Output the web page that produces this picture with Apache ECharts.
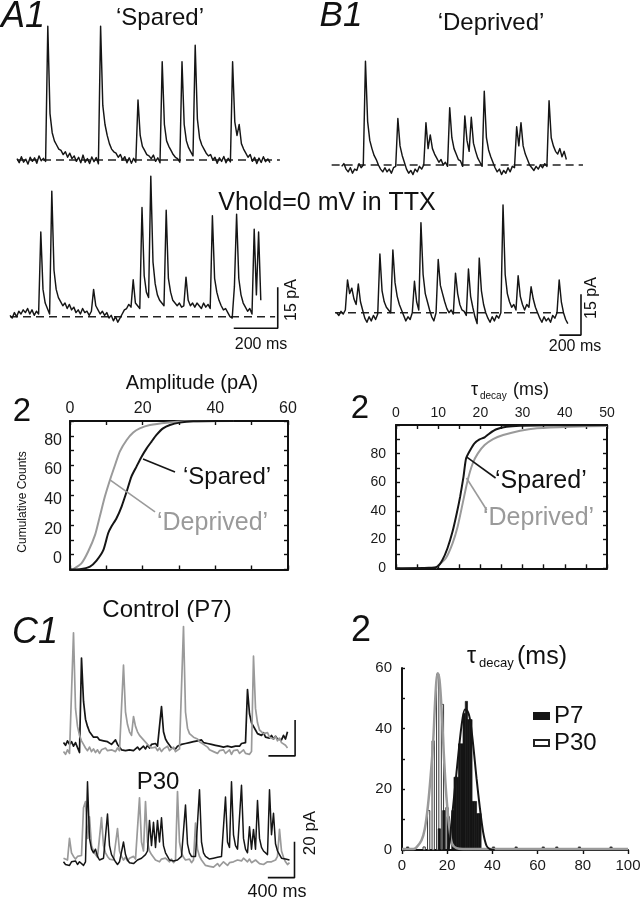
<!DOCTYPE html>
<html><head><meta charset="utf-8">
<script src="https://cdn.jsdelivr.net/npm/echarts@6/dist/echarts.min.js"></script>
<style>html,body{margin:0;padding:0;background:#fff}#c{width:642px;height:900px}</style>
</head><body><div id="c"></div>
<script>
const FONT = 'Liberation Sans, Arial, Helvetica, sans-serif';

// ===== DATA (pA, uniformly sampled traces) =====
// A1 'Spared', 10-ms samples
const spared1 = [0.5,-1,1.2,-0.8,0.3,-1.5,1,-0.5,0.8,-1.2,1.5,-0.3,0.6,-0.5,49,17,10,7,5.5,4,3.5,2,3,1,2.5,0.5,1.5,-0.5,1,-1,1.8,-0.8,0.5,-1.3,1.1,-0.6,0.9,-1.4,49,20,13,9,6,4,3,2.5,1,2,0,1.2,-1,0.8,-1.2,0.6,-0.8,22,9,5,3.5,2,1.5,0.5,1.8,-0.5,0.8,-1,36,13,7,5,3.5,2,1,0.5,-0.8,36,13,7,4.5,3,1.5,42,15,8,5.5,4,2.5,1.5,2,0,1,-1.2,0.8,-0.5,1.3,-1,0.6,-0.7,36,14,9,13,6,4,2.5,1,2,-0.5,1,-1.3,0.7,-0.9,1.2,-0.6,0.4,-1];
// B1 'Deprived', 20-ms samples
const deprived1 = [-0.5,0.5,-1.5,-2.5,-1,-3,-1.5,-2,0.5,-1,0,38,16,9,6,3.5,2,0,-1.5,-2.5,-1,-2.5,-1.5,-3,-1,-0.5,17,7,3.5,1,-1.5,-3,-2,-3.5,-1.5,-2.5,-0.5,-1.5,0,15.5,6,11,6,4,2.5,1,2,0,1,-0.5,21,10,6,4,2,1.5,-0.5,18,9,5,17.5,8,5,2.5,1,-0.5,27,10,5.5,3,1,-1,-2.5,-1.5,-3.5,-2,-3,-1,-2.5,-0.5,-1,14,7,15.5,7,4,2,0,-1,-2,-0.5,-1.5,0,-1,0.5,-0.5,23.5,10,7,5,4,6,3,5,2];
// A (Vhold=0 mV in TTX), 10-ms samples
const spared2 = [0.5,-0.5,1.5,0,2,1,2.5,1.5,3,1,2.5,0.5,2,1,31,10,5,3,1,46,17,10,7,5.5,4,5,3,4.5,2.5,3.5,1.5,2.5,1,3,1.5,2,0.5,2,10,4,2.5,1,2,0.5,1.5,-0.5,0.5,-1.5,0,-2,-0.5,1,2.5,3,4.5,3.5,13.5,5,4,3,40,15,9,7,51.5,20,12,8,6,5,4,39,14,9,6,5,4,5,3.5,4,14.5,6,4,5,3.5,5,4,3,5,3.5,4.5,3,37,14,9,6,4,2.5,3,1.5,0,-0.5,11,37.5,14,8,5,3.5,2,3,1,32,8,31,6];
// B (Vhold=0 mV in TTX), 20-ms samples
const deprived2 = [0,-1,0.5,-0.5,1,12,7,9,5,3,10.5,4,1,-2,-3.5,-1.5,-3,-1,-2.5,-0.5,21.5,8,4,2,1,0,23,11,6,3,1,-1,-3,-1.5,-2.5,0,11.5,4,1,33,14,7,4,1,-1.5,-3,0,19.5,10,7,4,1.5,0,1,-0.5,14.5,7,3,1,0.5,-1,16,6,2,-1.5,-4,20,8,3,0,-2,-3.5,-1.5,-3,-1,-2,0,39.5,14,7,4,2,3,1,13.5,6,3,1,3,2,9.5,5,2,0,-2,-3.5,-1.5,-3,-2,-3.5,-1,-2,0,12,4,0,-2.5,-4];
// C1 Control (P7), 30-ms samples
const p7Black = [3,1.5,4,2,3.5,1,3,2,-2.5,50,26,16,12,9,8,6,5,6,4.5,5.5,4,5,3.5,4,2,3,4.5,2,1,-1,0,-1.5,-0.5,-1,0,-1.5,-0.5,0.5,-1,0,1,-0.5,1.5,0,2,1,2.5,1,1.5,23,9,5,3,1.5,0,1,-0.5,1,0,2,1,2.5,1.5,3,2,3.5,2.5,4,3,4.5,3,4,2.5,3.5,2,3,1.5,2.5,1,2,0.5,1.5,1,2,0.5,1.5,1,2,1,2.5,2,3,32.5,19,14,12,10,8,9,7,8.5,6,7,5.5,7,5,6.5,5,6,4.5,7,5,9];
const p7Gray = [-2,-3.5,-1,-3,-2,64,22,12,7,4,2,0,-1.5,0.5,-2,-0.5,-2.5,-1,-3,-1,-2,0,-1.5,-2.5,-1,-0.5,-2,0,-1.5,-1,46,20,13,9,7,17.5,12,9,7,6,4.5,3.5,2,1,0,-1,0.5,-1.5,0,-2,-0.5,-1,1,-1.5,-0.5,0.5,-2,-1,-0.5,-1,67.5,20,11,8,7,6,7,5,3.5,4,2,1,0.5,-1,0,-2,-1,-3,-1.5,-2.5,-1,-3,-2,-1,-3.5,-1.5,-2.5,-1,-3,-2,-1,-3,-2,-3.5,-2,51,22,14,10,9,8,7,8.5,6,7,5,6.5,4,5.5,3,4,1.5,0];
// C1 P30, 30-ms samples
const p30Black = [-1,-2.5,-1.5,-3,-1,-2,-0.5,-2.5,-1,-2,-3,-1,43.5,12,6,4,6,2,0,-1,1,0,25.5,8,3,1,-1,-2.5,-1,0,10,3,0,-1.5,-0.5,-2,-1,0,0.5,1,2,3,5,22,8,21,7,22,10,23.5,8,4,2,0,1,-0.5,0.5,0,1,2,3,30.5,9,4,2,1,2,3,39,10,4,2,1,0.5,0,1,0,1.5,0.5,2,2.5,35,10,7,43.5,14,8,6,5,41.5,12,6,4,18.5,6,17,6,33,12,7,5,4,3,39,14,26,9,5,3,1,2,0.5,1,0];
const p30Gray = [1,2,0,12,4,2,0.5,2,1,2.5,29,32.5,12,24,8,5,3,1.5,2.5,23.5,8,4,2,0.5,1.5,0,1,17.5,5,2,0,1.5,-0.5,1,0,2,0.5,1,34.5,10,5,32.5,10,5,3,1.5,0,1,-1,0.5,-0.5,1,0,-1,0.5,-1.5,0,38,10,4,1.5,0,-1,0.5,-1.5,0,20.5,6,2,0,-1.5,-3,-2,-3.5,-2.5,-4,-3,-2,-3.5,-2.5,-1,-2,-3,-1.5,-2.5,-1,-2,0,-1,-0.5,1,0,-1,0.5,-1.5,-0.5,0,-1,-2,-1,-2.5,-1.5,-1,-2,-1,-0.5,0,2,17,5,1.5,-1,-2.5,-1.5];

// A2 cumulative amplitude (pA, %)
const ampSpared = [[0,0],[2.7,0.2],[5.5,2],[7.3,6],[9.2,13.2],[10.5,24.4],[11.4,28.9],[12.8,34.5],[14.2,42.4],[15.6,52.5],[16.9,62.6],[18.3,69.3],[19.7,76],[21.1,81.6],[22.4,86],[23.8,90.6],[25.6,95],[27.5,97.3],[30.2,98.9],[33.9,99.8],[40.3,100],[44.9,100]];
const ampDeprived = [[0.9,0.2],[3.2,4.3],[5,12.1],[6.9,23.3],[8.2,35.7],[9.6,49.1],[11,60.3],[12.4,70.4],[13.7,79.4],[15.6,87.2],[17.4,92.2],[19.2,95],[22,97.3],[26.6,98.9],[32,99.8],[44.9,100]];
// B2 cumulative tau decay (ms, %)
const tauSpared = [[0,0],[7.8,0.3],[9.8,1.2],[11,5.8],[12.2,14],[13.4,25.6],[14.4,38.4],[15.2,50],[16,64],[16.6,76.7],[17.6,82.6],[18.6,87.2],[19.8,90],[21,91.4],[22.2,94.2],[23.8,97],[26.2,98.8],[29.4,99.5],[37.4,99.8],[50,100]];
const tauDeprived = [[9.4,0.3],[11.8,7],[13.4,17.4],[14.6,29],[15.8,45.3],[17,61.6],[18.2,73.3],[19.4,80.2],[21,86],[23,90.2],[25.4,93],[29.4,96],[33.4,97.7],[41.4,98.8],[50,99.3]];
// C2 histogram of tau decay (bin centre ms, counts; 1-ms bins)
const histP7 = [[2.5,1],[16.5,7],[18.5,13],[20.5,11],[22.5,13],[23.5,24],[24.5,24],[25.5,35],[26.5,35],[27.5,45],[28.5,49],[29.5,43],[30.5,43],[31.5,16],[32.5,16],[33.5,12],[34.5,12],[40.5,1],[50.5,1],[62.5,1],[68.5,1],[78.5,1],[92.5,1]];
const histP30 = [[9.8,1],[11.8,13],[13.8,36],[15.8,58],[17.9,48],[19.9,14]];
const fitP7 = [[18,0],[20.4,0.3],[21.9,9.2],[23.4,20.2],[24.9,31.3],[26.3,40.7],[27.8,46.3],[28.6,46.2],[30,43.4],[31.5,34.6],[33,23.5],[34.5,13.6],[35.9,5.9],[37.4,1.4],[38.9,0.3],[41,0]];
const fitP30 = [[0,0.3],[5,0.3],[6.4,0.9],[8.6,3.1],[10.1,7],[11.5,14.7],[12.7,24.6],[13.8,35.7],[14.5,46.7],[15.2,55.6],[15.8,58.3],[16.6,56.1],[17.5,46.7],[18.3,34.6],[19.2,22.4],[20.1,13.6],[21.2,5.9],[22.2,2],[24.1,0.6],[27,0.3],[100,0.3]];
const histBinMs = 1;
// scale bars
const scaleAB = {ms:200, pA:15};
const scaleC = {ms:400, pA:20};
// annotation pointers (data coords)
const ampSparedPtr = [[20.1,74.4],[28.9,65.7]];
const ampDeprivedPtr = [[11,60.3],[23.4,38.8]];
const tauSparedPtr = [[16.7,77.7],[23.6,63]];
const tauDeprivedPtr = [[16.7,63],[21.5,40.7]];

// ===== LAYOUT =====
const BLACK = '#151515', GRAY = '#9a9a9a';
const grids = [], xAxes = [], yAxes = [], series = [];

function traceGrid(c) {
  const gi = grids.length;
  grids.push({show:false, left:c.x0 + c.xMin*c.kx, top:c.y0 - c.yMax*c.ky, width:(c.xMax-c.xMin)*c.kx, height:(c.yMax-c.yMin)*c.ky, containLabel:false, outerBoundsMode:'none'});
  const xi = xAxes.length, yi = yAxes.length;
  xAxes.push({gridIndex:gi, type:'value', min:c.xMin, max:c.xMax, show:false});
  yAxes.push({gridIndex:gi, type:'value', min:c.yMin, max:c.yMax, show:false});
  return {xi, yi};
}
function traceSeries(ax, arr, dt, color, w, z) {
  series.push({type:'line', xAxisIndex:ax.xi, yAxisIndex:ax.yi, data:arr.map((v,i)=>[i*dt, v]), symbol:'none', clip:false,
    lineStyle:{color, width:w, join:'round'}, z:z||3, silent:true});
}
function dashSeries(ax, range) {
  series.push({type:'line', xAxisIndex:ax.xi, yAxisIndex:ax.yi, data:[[range[0],0],[range[1],0]], symbol:'none', clip:false,
    lineStyle:{color:'#222', width:1.6, type:[8,5]}, z:2, silent:true});
}
function barSeries(ax, corner, sc) {
  series.push({type:'line', xAxisIndex:ax.xi, yAxisIndex:ax.yi, data:[[corner[0]-sc.ms, corner[1]],[corner[0], corner[1]],[corner[0], corner[1]+sc.pA]], symbol:'none', clip:false,
    lineStyle:{color:'#111', width:1.6}, z:4, silent:true});
}

const TW = 1.45;
const A1 = traceGrid({x0:17, y0:160, kx:0.22, ky:2.73, xMin:0, xMax:1200, yMin:-6, yMax:52});
dashSeries(A1, [0,1195]); traceSeries(A1, spared1, 10, BLACK, TW);
const A2 = traceGrid({x0:10, y0:316.7, kx:0.22, ky:2.73, xMin:0, xMax:1230, yMin:-6, yMax:53});
dashSeries(A2, [0,1205]); traceSeries(A2, spared2, 10, BLACK, TW); barSeries(A2, [1217,-4.25], scaleAB);
const B1 = traceGrid({x0:341.7, y0:165, kx:0.108, ky:2.73, xMin:-100, xMax:2300, yMin:-6, yMax:40});
dashSeries(B1, [-93,2234]); traceSeries(B1, deprived1, 20, BLACK, TW);
const B2 = traceGrid({x0:336.7, y0:312.7, kx:0.108, ky:2.73, xMin:-100, xMax:2300, yMin:-10, yMax:41});
dashSeries(B2, [-16,2150]); traceSeries(B2, deprived2, 20, BLACK, TW); barSeries(B2, [2262,-8.2], scaleAB);
const C7 = traceGrid({x0:63.5, y0:748, kx:2/30, ky:1.8, xMin:0, xMax:3500, yMin:-6, yMax:70});
traceSeries(C7, p7Black, 30, BLACK, 1.7, 3); traceSeries(C7, p7Gray, 30, GRAY, 1.7, 4); barSeries(C7, [3474,-4.4], scaleC);
const C30 = traceGrid({x0:63.5, y0:860, kx:2/30, ky:1.8, xMin:0, xMax:3500, yMin:-11, yMax:46});
traceSeries(C30, p30Gray, 30, GRAY, 1.7, 3); traceSeries(C30, p30Black, 30, BLACK, 1.5, 4); barSeries(C30, [3465,-9.8], scaleC);

// boxed cumulative plots
function boxPlot(o) {
  const gi = grids.length;
  grids.push({show:false, left:o.left, top:o.top, width:o.width, height:o.height, containLabel:false, outerBoundsMode:'none'});
  const line = {show:true, onZero:false, lineStyle:{color:'#111', width:2}};
  const tick = {show:true, inside:true, length:4, lineStyle:{color:'#111', width:1.4}};
  const lab = {fontSize:o.fs, color:'#1a1a1a', fontFamily:FONT};
  const xi = xAxes.length;
  xAxes.push({gridIndex:gi, type:'value', position:'top', min:0, max:o.xMax, interval:o.xTick, axisLine:line, axisTick:tick, splitLine:{show:false},
    axisLabel:Object.assign({margin:o.xMargin, formatter:v => (Math.round(v) % o.xLab === 0 ? String(Math.round(v)) : '')}, lab)});
  xAxes.push({gridIndex:gi, type:'value', position:'bottom', min:0, max:o.xMax, interval:o.xTick, axisLine:line, axisTick:tick, splitLine:{show:false}, axisLabel:{show:false}});
  const yi = yAxes.length;
  yAxes.push({gridIndex:gi, type:'value', position:'left', min:0, max:100, interval:10, axisLine:line, axisTick:tick, splitLine:{show:false},
    axisLabel:Object.assign({margin:o.yMargin, verticalAlign:o.yVA, lineHeight:o.yLH, formatter:v => (Math.round(v) % 20 === 0 && v <= 80 ? String(Math.round(v)) : '')}, lab)});
  yAxes.push({gridIndex:gi, type:'value', position:'right', min:0, max:100, interval:10, axisLine:line, axisTick:tick, splitLine:{show:false}, axisLabel:{show:false}});
  return {xi:xi+1, yi};
}
function curve(ax, data, color, w, z) {
  series.push({type:'line', xAxisIndex:ax.xi, yAxisIndex:ax.yi, data, symbol:'none', smooth:0.2, lineStyle:{color, width:w}, z:z||3, silent:true});
}
function pointer(ax, data, color) {
  series.push({type:'line', xAxisIndex:ax.xi, yAxisIndex:ax.yi, data, symbol:'none', clip:false, lineStyle:{color, width:1.6}, z:5, silent:true});
}
const P1 = boxPlot({left:70, top:421, width:218, height:148.5, xMax:60, xTick:10, xLab:20, fs:16, xMargin:4, yMargin:8, yVA:'bottom', yLH:21});
curve(P1, ampDeprived, GRAY, 2); curve(P1, ampSpared, BLACK, 2);
pointer(P1, ampSparedPtr, BLACK); pointer(P1, ampDeprivedPtr, GRAY);
const P2 = boxPlot({left:396, top:425, width:211, height:143.3, xMax:50, xTick:5, xLab:10, fs:14, xMargin:5, yMargin:10, yVA:'middle', yLH:16});
curve(P2, tauDeprived, GRAY, 2); curve(P2, tauSpared, BLACK, 2);
pointer(P2, tauSparedPtr, BLACK); pointer(P2, tauDeprivedPtr, GRAY);

// histogram C2
const hg = grids.length;
grids.push({show:false, left:402, top:668, width:226, height:182, containLabel:false, outerBoundsMode:'none'});
const hx = xAxes.length, hy = yAxes.length;
xAxes.push({gridIndex:hg, type:'value', min:0, max:100, interval:20, axisLine:{show:true, onZero:false, lineStyle:{color:'#111', width:2}},
  axisTick:{show:true, inside:false, length:4, lineStyle:{color:'#111', width:1.4}}, splitLine:{show:false},
  axisLabel:{fontSize:15, color:'#1a1a1a', fontFamily:FONT, margin:8}});
yAxes.push({gridIndex:hg, type:'value', min:0, max:60, interval:10, axisLine:{show:true, onZero:false, lineStyle:{color:'#111', width:2}},
  axisTick:{show:true, inside:true, length:3, lineStyle:{color:'#111', width:1.4}}, splitLine:{show:false},
  axisLabel:{fontSize:15, color:'#1a1a1a', fontFamily:FONT, margin:10, formatter:v => (v % 20 === 0 ? String(v) : '')}});
function histSeries(name, data, fill, stroke, lw, z) {
  series.push({name, type:'custom', xAxisIndex:hx, yAxisIndex:hy, data, z, silent:true,
    itemStyle:{color:fill, borderColor:stroke, borderWidth:lw},
    renderItem:(params, api) => {
      const x = api.value(0), y = api.value(1);
      const p0 = api.coord([x - histBinMs/2, y]), p1 = api.coord([x + histBinMs/2, 0]);
      return {type:'rect', shape:{x:p0[0], y:p0[1], width:p1[0]-p0[0], height:p1[1]-p0[1]},
        style:{fill, stroke, lineWidth:lw}};
    }});
}
histSeries('P30', histP30, '#fff', '#222', 0.9, 2);
histSeries('P7', histP7, BLACK, BLACK, 0.7, 3);
series.push({type:'line', xAxisIndex:hx, yAxisIndex:hy, data:fitP30, symbol:'none', smooth:0.3, lineStyle:{color:GRAY, width:2.5}, z:4, silent:true});
series.push({type:'line', xAxisIndex:hx, yAxisIndex:hy, data:fitP7, symbol:'none', smooth:0.3, lineStyle:{color:BLACK, width:2}, z:5, silent:true});

// ===== TEXT =====
function txt(x, y, text, size, o) {
  o = o || {};
  return {type:'text', x, y, rotation:o.rot||0, z:100, silent:true,
    style:{text, x:0, y:0, fontSize:size, fontFamily:FONT, fontStyle:o.italic?'italic':'normal', fill:o.color||'#111',
      align:o.align||'center', verticalAlign:'middle', textAlign:o.align||'center', textVerticalAlign:'middle'}};
}
const graphics = [
  txt(23, 17, 'A1', 36, {italic:true}),
  txt(160, 18, '\u2018Spared\u2019', 24),
  txt(341, 16, 'B1', 35, {italic:true}),
  txt(491, 23, '\u2018Deprived\u2019', 24),
  txt(327, 203, 'Vhold=0 mV in TTX', 25),
  txt(292, 300, '15 pA', 16, {rot:Math.PI/2}),
  txt(261, 345, '200 ms', 16),
  txt(592, 298, '15 pA', 16, {rot:Math.PI/2}),
  txt(575, 347, '200 ms', 16),
  txt(22, 412, '2', 33),
  txt(192, 383, 'Amplitude (pA)', 20),
  txt(23, 502, 'Cumulative Counts', 12, {rot:Math.PI/2}),
  txt(183, 477, '\u2018Spared\u2019', 24, {align:'left'}),
  txt(157, 523, '\u2018Deprived\u2019', 25, {align:'left', color:GRAY}),
  txt(360, 409, '2', 33),
  txt(471, 390, '\u03c4', 18, {align:'left'}),
  txt(480, 396, 'decay', 10, {align:'left'}),
  txt(513, 390, '(ms)', 18, {align:'left'}),
  txt(495, 481, '\u2018Spared\u2019', 25, {align:'left'}),
  txt(483, 518, '\u2018Deprived\u2019', 25, {align:'left', color:GRAY}),
  txt(35, 633, 'C1', 36, {italic:true}),
  txt(167, 610, 'Control (P7)', 24),
  txt(158, 782, 'P30', 24),
  txt(310, 833, '20 pA', 17, {rot:Math.PI/2}),
  txt(277, 892, '400 ms', 18),
  txt(361, 631, '2', 36),
  txt(467, 657, '\u03c4', 23, {align:'left'}),
  txt(479, 663, 'decay', 13, {align:'left'}),
  txt(517, 657, '(ms)', 25, {align:'left'})
];

const chart = echarts.init(document.getElementById('c'), null, {renderer:'canvas'});
chart.setOption({
  animation:false,
  backgroundColor:'#fff',
  textStyle:{fontFamily:FONT},
  grid:grids, xAxis:xAxes, yAxis:yAxes, series,
  legend:{data:['P7','P30'], orient:'vertical', left:528, top:699, itemWidth:15, itemHeight:6, itemGap:3, icon:'rect',
    textStyle:{fontSize:24, color:'#111', fontFamily:FONT}, selectedMode:false},
  graphic:graphics
});
</script></body></html>
